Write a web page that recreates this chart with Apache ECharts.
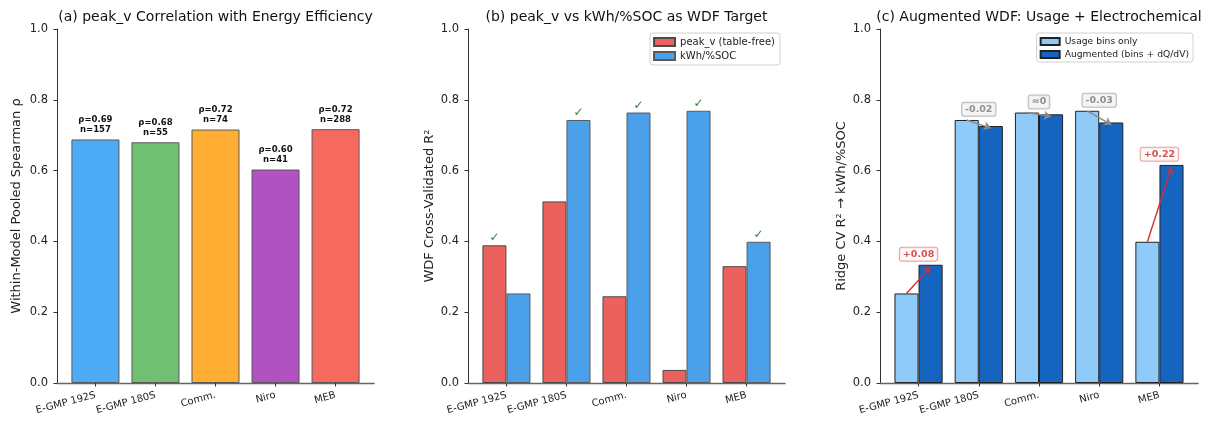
<!DOCTYPE html>
<html>
<head>
<meta charset="utf-8">
<script src="https://cdn.jsdelivr.net/npm/echarts@6/dist/echarts.min.js"></script>
<style>
  html, body { margin: 0; padding: 0; background: #fff; }
  #chart { width: 1210px; height: 421px; }
</style>
</head>
<body>
<div id="chart"></div>
<script>
// Vehicle groups shared by all three panels
const models = ['E-GMP 192S', 'E-GMP 180S', 'Comm.', 'Niro', 'MEB'];

// (a) within-model pooled Spearman rho of peak_v vs energy efficiency
const rhoValues = [0.688, 0.680, 0.716, 0.603, 0.717];
const sampleCounts = [157, 55, 74, 41, 288];

// (b) WDF cross-validated R² for each target
const peakVR2 = [0.389, 0.513, 0.245, 0.037, 0.330];
const kwhSocR2 = [0.253, 0.743, 0.764, 0.769, 0.399];

// (c) ridge CV R² on kWh/%SOC: usage bins only vs augmented with dQ/dV
const usageBinsR2 = kwhSocR2;
const augmentedR2 = [0.334, 0.726, 0.759, 0.736, 0.616];

const xTicks = [0, 1, 2, 3, 4];

const FONT = 'DejaVu Sans';
const modelColors = ['#4DABF5', '#70BF73', '#FFAD33', '#B052C0', '#F6695E'];
const C_PEAK = '#EA615D', C_KWH = '#4BA0EA';
const C_USAGE = '#90CAF9', C_AUG = '#1565C0';

const grids = [
  { left: 57, top: 29, width: 317, height: 354 },
  { left: 468, top: 29, width: 317, height: 354 },
  { left: 880, top: 29, width: 318, height: 354 }
];

function xAxisFor(idx) {
  return {
    type: 'value', gridIndex: idx, min: -0.64, max: 4.64,
    splitLine: { show: false },
    axisLine: { show: true, onZero: false, lineStyle: { color: '#666', width: 1.4 } },
    axisTick: { show: true, customValues: xTicks, length: 3.5, lineStyle: { color: '#333' } },
    axisLabel: {
      customValues: xTicks, rotate: 15, margin: 12,
      fontFamily: FONT, fontSize: 10, color: '#222',
      formatter: v => models[Math.round(v)]
    }
  };
}

function yAxisFor(idx, name, gap) {
  return {
    type: 'value', gridIndex: idx, min: 0, max: 1, interval: 0.2,
    name: name, nameLocation: 'middle', nameGap: gap, nameRotate: 90,
    nameTextStyle: { fontFamily: FONT, fontSize: 13, color: '#222' },
    splitLine: { show: false },
    axisLine: { show: true, onZero: false, lineStyle: { color: '#333', width: 1 } },
    axisTick: { show: true, length: 3.5, lineStyle: { color: '#333' } },
    axisLabel: {
      margin: 9, fontFamily: FONT, fontSize: 11.5, color: '#222',
      formatter: v => v.toFixed(1)
    }
  };
}

function titleFor(text, grid) {
  return {
    text: text, left: grid.left + grid.width / 2, top: 10, textAlign: 'center', padding: 0,
    textStyle: { fontFamily: FONT, fontSize: 14, fontWeight: 'normal', color: '#111' }
  };
}

const checkLabel = {
  show: true, position: 'top', distance: 1, formatter: '\u2713',
  fontFamily: FONT, fontSize: 12, fontWeight: 'bold', color: '#2E7D32'
};

// (b) tick the better of the two targets per model
function targetData(values, other) {
  return values.map((v, i) => ({
    value: [i, v],
    label: v > other[i] ? checkLabel : { show: false }
  }));
}

function deltaText(i) {
  const d = augmentedR2[i] - usageBinsR2[i];
  if (Math.abs(d) < 0.01) return '\u22480';
  return (d > 0 ? '+' : '') + d.toFixed(2);
}

const deltaLabels = models.map((m, i) => {
  const d = augmentedR2[i] - usageBinsR2[i];
  const gain = d >= 0.01;
  return {
    value: [i, Math.max(usageBinsR2[i], augmentedR2[i]) + 0.03],
    label: {
      show: true, position: 'inside', formatter: deltaText(i),
      fontFamily: FONT, fontSize: 9.5, fontWeight: 'bold',
      color: gain ? '#C62828' : '#757575',
      backgroundColor: gain ? '#FFF8F8' : '#F2F2F2',
      borderColor: gain ? '#E88A8A' : '#AAAAAA', borderWidth: 1, borderRadius: 2,
      padding: [2, 3, 1, 3]
    }
  };
});

const deltaArrows = models.map((m, i) => {
  const gain = augmentedR2[i] - usageBinsR2[i] >= 0.01;
  return {
    coords: [[i - 0.2, usageBinsR2[i]], [i + 0.2, augmentedR2[i] - 0.006]],
    lineStyle: { color: gain ? '#D32F2F' : '#8A8A8A', width: 1.4, opacity: 1 }
  };
});

const option = {
  animation: false,
  backgroundColor: '#fff',
  title: [
    titleFor('(a) peak_v Correlation with Energy Efficiency', grids[0]),
    titleFor('(b) peak_v vs kWh/%SOC as WDF Target', grids[1]),
    titleFor('(c) Augmented WDF: Usage + Electrochemical', grids[2])
  ],
  legend: [
    {
      data: ['peak_v (table-free)', 'kWh/%SOC'],
      right: 430, top: 33, orient: 'vertical', selectedMode: false,
      itemWidth: 21, itemHeight: 8, itemGap: 4, icon: 'rect',
      padding: [4, 5, 4, 3], backgroundColor: '#fff',
      borderColor: '#d0d0d0', borderWidth: 1, borderRadius: 3,
      textStyle: { fontFamily: FONT, fontSize: 10, color: '#222' }
    },
    {
      data: ['Usage bins only', 'Augmented (bins + dQ/dV)'],
      right: 17, top: 33, orient: 'vertical', selectedMode: false,
      itemWidth: 19, itemHeight: 7, itemGap: 4, icon: 'rect',
      padding: [4, 4, 3, 3], backgroundColor: '#fff',
      borderColor: '#d0d0d0', borderWidth: 1, borderRadius: 3,
      textStyle: { fontFamily: FONT, fontSize: 9.2, color: '#222' }
    }
  ],
  grid: grids,
  xAxis: [xAxisFor(0), xAxisFor(1), xAxisFor(2)],
  yAxis: [
    yAxisFor(0, 'Within-Model Pooled Spearman \u03c1', 34),
    yAxisFor(1, 'WDF Cross-Validated R\u00b2', 32),
    yAxisFor(2, 'Ridge CV R\u00b2 \u2192 kWh/%SOC', 32)
  ],
  series: [
    {
      type: 'bar', xAxisIndex: 0, yAxisIndex: 0, barWidth: '80%',
      data: rhoValues.map((v, i) => ({ value: [i, v], itemStyle: { color: modelColors[i] } })),
      itemStyle: { borderColor: '#5a5a5a', borderWidth: 1 },
      label: {
        show: true, position: 'top', distance: 5,
        fontFamily: FONT, fontSize: 8.5, fontWeight: 'bold', color: '#111', lineHeight: 9.5,
        formatter: p => '\u03c1=' + rhoValues[p.dataIndex].toFixed(2) + '\nn=' + sampleCounts[p.dataIndex]
      }
    },
    {
      name: 'peak_v (table-free)', type: 'bar', xAxisIndex: 1, yAxisIndex: 1,
      barWidth: '40%', barGap: '0%',
      itemStyle: { color: C_PEAK, borderColor: '#4a4a4a', borderWidth: 1 },
      data: targetData(peakVR2, kwhSocR2)
    },
    {
      name: 'kWh/%SOC', type: 'bar', xAxisIndex: 1, yAxisIndex: 1,
      barWidth: '40%', barGap: '0%',
      itemStyle: { color: C_KWH, borderColor: '#5a5a5a', borderWidth: 1 },
      data: targetData(kwhSocR2, peakVR2)
    },
    {
      name: 'Usage bins only', type: 'bar', xAxisIndex: 2, yAxisIndex: 2,
      barWidth: '40%', barGap: '0%',
      itemStyle: { color: C_USAGE, borderColor: '#222', borderWidth: 1 },
      data: usageBinsR2.map((v, i) => [i, v])
    },
    {
      name: 'Augmented (bins + dQ/dV)', type: 'bar', xAxisIndex: 2, yAxisIndex: 2,
      barWidth: '40%', barGap: '0%',
      itemStyle: { color: C_AUG, borderColor: '#222', borderWidth: 1 },
      data: augmentedR2.map((v, i) => [i, v])
    },
    {
      type: 'lines', coordinateSystem: 'cartesian2d', xAxisIndex: 2, yAxisIndex: 2, z: 5,
      symbol: ['none', 'arrow'], symbolSize: [0, 7],
      lineStyle: { opacity: 1 },
      data: deltaArrows
    },
    {
      type: 'scatter', xAxisIndex: 2, yAxisIndex: 2, z: 6,
      symbolSize: 1, itemStyle: { color: 'rgba(0,0,0,0)' },
      data: deltaLabels
    }
  ]
};

const chart = echarts.init(document.getElementById('chart'), null, { renderer: 'canvas' });
chart.setOption(option);
</script>
</body>
</html>
